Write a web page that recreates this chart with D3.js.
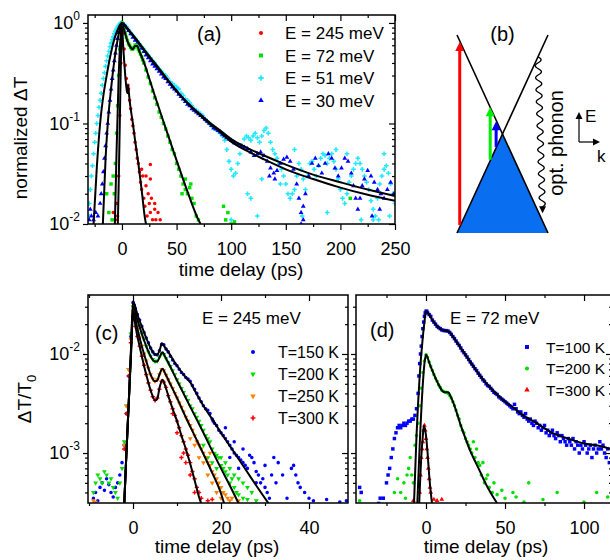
<!DOCTYPE html>
<html>
<head>
<meta charset="utf-8">
<script src="https://cdn.jsdelivr.net/npm/d3@7"></script>
<style>
body { margin: 0; background: #fff; }
text { font-family: "Liberation Sans", Arial, Helvetica, sans-serif; fill: #000; }
</style>
</head>
<body>
<script>
// ---------- data ----------
// panel (a): normalized dT vs time delay (ps)
var a245 = [[-8,0.013],[-6,0.011],[-5,0.016],[-4,0.012],[-3,0.03],[-2,0.12],[-1,0.4],[0,0.95],[1,0.8],[2,0.55],[3,0.38],[4,0.28],[5,0.21],[5.5,0.24],[6,0.22],[7,0.17],[8,0.14],[9,0.11],[10,0.095],[11,0.08],[12,0.065],[13,0.055],[14,0.045],[15,0.04],[16,0.033],[17,0.026],[18,0.022],[18,0.035],[19,0.03],[20,0.018],[21,0.015],[22,0.024],[22,0.03],[23,0.012],[24,0.02],[25,0.016],[26,0.013],[26,0.028],[26,0.039],[27,0.018],[28,0.011],[30,0.014],[30,0.016],[31,0.011],[33,0.013],[35,0.011]];
var a72 = [[-14,0.02],[-12,0.013],[-10,0.025],[-9,0.011],[-8,0.03],[-7,0.02],[-6,0.04],[-5,0.08],[-4,0.15],[-3,0.3],[-2,0.55],[-1,0.85],[0,1],[1,0.95],[2,0.85],[3,0.78],[4,0.72],[5,0.67],[6,0.62],[7,0.6],[8,0.57],[9,0.55],[10,0.55],[11,0.57],[12,0.6],[13,0.6],[14,0.58],[15,0.55],[16,0.52],[17,0.49],[18,0.46],[19,0.43],[20,0.4],[22,0.34],[24,0.29],[26,0.25],[28,0.21],[30,0.18],[32,0.155],[34,0.13],[36,0.115],[38,0.1],[40,0.088],[42,0.075],[44,0.065],[46,0.055],[48,0.05],[50,0.04],[52,0.035],[54,0.03],[55,0.02],[56,0.025],[58,0.022],[58,0.028],[60,0.02],[62,0.023],[63,0.025],[64,0.018],[66,0.016],[68,0.012],[70,0.011],[93,0.015],[95,0.011],[97,0.013],[100,0.01],[103,0.0105],[209,0.018]];
var a51 = [[-30,0.016],[-30,0.012],[-29,0.022],[-28,0.03],[-27,0.038],[-26,0.05],[-25,0.065],[-24,0.08],[-23,0.1],[-22,0.12],[-21,0.145],[-20,0.17],[-19,0.2],[-18,0.24],[-17,0.28],[-16,0.32],[-15,0.37],[-14,0.42],[-13,0.47],[-12,0.52],[-11,0.58],[-10,0.63],[-9,0.68],[-8,0.73],[-7,0.78],[-6,0.83],[-5,0.87],[-4,0.91],[-3,0.95],[-2,0.98],[-1,1.0],[0,1.0],
  [2,0.97],[4,0.92],[6,0.86],[8,0.8],[10,0.75],[12,0.7],[14,0.66],[16,0.62],[18,0.58],[20,0.55],[22,0.51],[24,0.48],[26,0.45],[28,0.42],[30,0.4],[32,0.37],[34,0.35],[36,0.33],[38,0.31],[40,0.3],[42,0.28],[44,0.26],[46,0.25],[48,0.24],[50,0.23],[52,0.22],[54,0.2],[56,0.19],[58,0.175],[60,0.17],[62,0.16],[64,0.15],[66,0.14],[68,0.135],[70,0.13],[72,0.125],[74,0.12],[76,0.11],[78,0.105],[80,0.1],[82,0.095],[84,0.09],[86,0.088],[88,0.085],[90,0.08],[92,0.075],[94,0.068],[96,0.055],[98,0.042],[100,0.035],[102,0.03],[104,0.032],[106,0.04],[108,0.05],[110,0.06],[112,0.07],[114,0.075],[116,0.072],[118,0.068],[120,0.075],[122,0.08],[124,0.072],[126,0.065],[128,0.075],[130,0.085],[132,0.09],[134,0.08],[136,0.065],[138,0.055],[140,0.05],[142,0.045],[144,0.04],[146,0.035],[148,0.03],[150,0.025],[152,0.02],[154,0.018],[156,0.02],[158,0.022],[160,0.03],[162,0.04],[164,0.035],[166,0.028],[168,0.022],[170,0.03],[172,0.04],[174,0.042],[176,0.035],[178,0.03],[180,0.038],[182,0.045],[184,0.05],[186,0.048],[188,0.04],[190,0.045],[192,0.05],[194,0.042],[196,0.035],[198,0.028],[200,0.022],[202,0.018],[204,0.016],[206,0.02],[208,0.026],[210,0.03],[212,0.035],[214,0.04],[216,0.045],[218,0.04],[220,0.035],[222,0.03],[224,0.026],[226,0.022],[228,0.017],[230,0.014],[232,0.012],[234,0.018],[236,0.025],[238,0.03],[240,0.035],[242,0.038],[244,0.032],[246,0.025],[248,0.02],[250,0.016],
  [230,0.011],[219,0.011],[245,0.012],[235,0.011],[188,0.013],[165,0.012],[124,0.012],[100,0.011],[115,0.02],[145,0.025],[128,0.028],[118,0.018],[240,0.05],[206,0.05],[158,0.055],[196,0.055]];
var a30 = [[-30,0.011],[-29,0.014],[-28,0.012],[-26,0.011],[-24,0.013],[-22,0.012],[-20,0.016],[-19,0.02],[-18,0.025],[-17,0.033],[-16,0.045],[-15,0.06],[-14,0.08],[-13,0.1],[-12,0.13],[-11,0.17],[-10,0.22],[-9,0.28],[-8,0.34],[-7,0.42],[-6,0.5],[-5,0.6],[-4,0.7],[-3,0.8],[-2,0.88],[-1,0.95],[0,1.0],
  [2,0.96],[4,0.9],[6,0.84],[8,0.78],[10,0.72],[12,0.67],[14,0.63],[16,0.6],[18,0.56],[20,0.52],[22,0.48],[24,0.45],[26,0.42],[28,0.39],[30,0.37],[32,0.35],[34,0.33],[36,0.31],[38,0.29],[40,0.28],[42,0.26],[44,0.245],[46,0.23],[48,0.22],[50,0.21],[52,0.195],[54,0.185],[56,0.175],[58,0.165],[60,0.155],[62,0.15],[64,0.14],[66,0.135],[68,0.13],[70,0.125],[72,0.12],[74,0.115],[76,0.11],[78,0.105],[80,0.1],[82,0.095],[84,0.09],[86,0.088],[88,0.085],[90,0.082],[92,0.078],[94,0.075],[96,0.072],[98,0.07],[100,0.068],[103,0.064],[106,0.062],[109,0.06],[112,0.058],[115,0.056],[118,0.052],[121,0.048],[124,0.05],[127,0.052],[130,0.048],[133,0.042],[136,0.036],[139,0.032],[142,0.034],
  [145,0.04],[148,0.044],[151,0.046],[154,0.042],[157,0.035],[160,0.025],[162,0.018],[164,0.013],[166,0.015],[168,0.02],[171,0.03],[174,0.04],[177,0.045],[180,0.038],[183,0.032],[186,0.04],[189,0.05],[192,0.045],[195,0.036],[198,0.03],[201,0.036],[204,0.045],[207,0.042],[210,0.032],[212,0.024],[214,0.018],[216,0.014],[218,0.018],[220,0.024],[222,0.028],[225,0.034],[228,0.03],[231,0.026],[234,0.022],[237,0.02],[240,0.018],[243,0.022],[246,0.026],[249,0.02],
  [164,0.01],[166,0.011],[229,0.012],[236,0.014],[140,0.028],[135,0.03]];
var a245Fit = [[-3.8,0.01],[-3,0.025],[-2,0.1],[-1,0.4],[0,1],[1,0.62],[2,0.42],[3,0.3],[4,0.23],[5,0.2],[5.6,0.24],[6.2,0.21],[7,0.17],[8,0.14],[10,0.1],[12,0.068],[15,0.04],[18,0.022],[21,0.0115],[22,0.01]];
var a72Fit = [[-6.5,0.01],[-5,0.05],[-3,0.3],[-1,0.8],[0,1],[2,0.85],[5,0.66],[8,0.57],[10,0.55],[12,0.59],[14,0.59],[16,0.52],[20,0.41],[25,0.28],[30,0.19],[40,0.09],[50,0.043],[60,0.021],[70,0.011],[72,0.01]];
var a51Fit = [[-26,0.01],[-23,0.037],[-20,0.1],[-17,0.19],[-14,0.3],[-11,0.45],[-8,0.63],[-5,0.8],[-2,0.95],[0,1],[5,0.88],[10,0.76],[15,0.65],[20,0.55],[30,0.4],[40,0.29],[50,0.21],[60,0.16],[70,0.125],[80,0.1],[90,0.082],[100,0.066],[115,0.053],[130,0.044],[150,0.035],[175,0.028],[200,0.023],[225,0.0195],[250,0.017]];
var a30Fit = [[-17.5,0.01],[-15,0.045],[-13,0.1],[-10,0.22],[-7,0.42],[-4,0.68],[-2,0.87],[0,1],[5,0.87],[10,0.75],[15,0.64],[20,0.54],[30,0.39],[40,0.285],[50,0.21],[60,0.16],[70,0.127],[80,0.103],[90,0.085],[100,0.07],[115,0.057],[130,0.048],[150,0.039],[175,0.031],[200,0.026],[225,0.022],[250,0.019]];
var labelsA = ["E = 245 meV", "E = 72 meV", "E = 51 meV", "E = 30 meV"];

// panel (c): dT/T0, E = 245 meV, four temperatures
var c150 = [[-9,0.00035],[-8.5,0.0004],[-8,0.00033],[-7.5,0.00045],[-7,0.0005],[-6.5,0.00042],[-6,0.00055],[-5.5,0.00048],[-5,0.0004],[-4.5,0.00036],[-4,0.00045],[-3.5,0.0005],[-3,0.0006],[-2.5,0.0008],[-2,0.0012],[-1.5,0.0025],[-1,0.006],[-0.5,0.015],[0,0.033],[0.3,0.031],
  [0.5,0.029],[1,0.025],[1.5,0.022],[2,0.019],[2.5,0.0165],[3,0.0145],[3.5,0.013],[4,0.0115],[4.5,0.0105],[5,0.0099],[5.5,0.0098],[6,0.0108],[6.5,0.0125],[7,0.0124],[7.5,0.0112],[8,0.0105],[8.5,0.0095],[9,0.0087],[9.5,0.008],[10,0.0076],[10.5,0.007],[11,0.0065],[11.5,0.0062],[12,0.0058],[12.5,0.0056],[13,0.0053],[13.5,0.0048],[14,0.0044],[14.5,0.004],[15,0.0036],[15.5,0.0033],[16,0.003],[16.5,0.0028],[17,0.0027],[17.5,0.0025],[18,0.0022],[18.2,0.0021],[18.5,0.002],[19,0.0019],[19.5,0.0017],[20,0.0016],[20.5,0.0015],[21,0.0014],[21,0.0018],[21.5,0.0013],[22,0.0012],[22,0.0009],[22.5,0.0011],[23,0.001],[23,0.0013],[23.5,0.00095],[24,0.0009],[24,0.0007],[24.5,0.00085],[25,0.0008],[25,0.0011],[25.5,0.00075],[26,0.0007],[26.5,0.00095],[27,0.0009],[27.5,0.0008],[28,0.00065],[28,0.0005],[28.5,0.0006],[29,0.0005],[29.5,0.00055],[30,0.00045],[30,0.00075],[30.5,0.0004],[31,0.00035],[31.5,0.0006],[32,0.0009],[32.5,0.0005],[33,0.0008],[34,0.0006],[35,0.00035],[36,0.0007],[36.5,0.00075],[37,0.0006],[37.5,0.0005],[38,0.00045],[39,0.0004],[40,0.00035],[41,0.00033],[44,0.00034],[47,0.00032],[48.5,0.00033]];
var c200 = [[-9,0.0004],[-8.5,0.0005],[-8,0.0006],[-7.5,0.00055],[-7,0.0005],[-6.5,0.00065],[-6,0.0006],[-5.5,0.0005],[-5,0.00055],[-4.5,0.00045],[-4,0.0004],[-3.5,0.00035],[-3,0.0005],[-2.5,0.0007],[-2,0.0013],[-1.5,0.003],[-1,0.007],[-0.5,0.016],[0,0.03],
  [0.5,0.026],[1,0.022],[1.5,0.019],[2,0.016],[2.5,0.014],[3,0.012],[3.5,0.0105],[4,0.0095],[4.5,0.0088],[5,0.0084],[5.5,0.0085],[6,0.0093],[6.5,0.0102],[7,0.0099],[7.5,0.009],[8,0.0082],[8.5,0.0075],[9,0.0068],[9.5,0.0062],[10,0.0055],[10.5,0.005],[11,0.0045],[11.5,0.0041],[12,0.0037],[12.5,0.0034],[13,0.003],[13.5,0.0028],[14,0.0025],[14.5,0.0023],[15,0.0021],[15.5,0.0019],[16,0.0017],[16,0.0012],[16.5,0.0015],[17,0.0014],[17,0.0009],[17.5,0.0013],[18,0.0011],[18,0.0008],[18.5,0.001],[19,0.00095],[19,0.0007],[19.5,0.0009],[20,0.00075],[20,0.0009],[20.5,0.0007],[21,0.00065],[21,0.0008],[21.5,0.0006],[22,0.0005],[22,0.0007],[22.5,0.00055],[23,0.00045],[23,0.0006],[23.5,0.0004],[24,0.00038],[24,0.00055],[25,0.00035],[25,0.0005],[26,0.00034],[26,0.00045],[27,0.0004],[28,0.00033]];
var c250 = [[-9,0.00033],[-8.5,0.00032],[-2,0.0012],[-1.5,0.003],[-1,0.007],[-0.5,0.014],[0,0.027],
  [0.5,0.022],[1,0.018],[1.5,0.0145],[2,0.012],[2.5,0.01],[3,0.0085],[3.5,0.0072],[4,0.0062],[4.5,0.0056],[5,0.0053],[5.5,0.0055],[6,0.0062],[6.5,0.007],[7,0.0068],[7.5,0.0061],[8,0.0055],[8.5,0.005],[9,0.0045],[9.5,0.004],[10,0.0036],[10.5,0.0032],[11,0.0029],[11.5,0.0026],[12,0.0023],[12.5,0.0021],[13,0.0019],[13,0.0014],[13.5,0.0017],[14,0.0015],[14,0.0012],[14.5,0.0013],[15,0.0012],[15,0.0009],[15.5,0.0011],[16,0.001],[16,0.0008],[16.5,0.0009],[17,0.0008],[17,0.0006],[17.5,0.00075],[17.5,0.001],[18,0.00065],[18,0.0005],[18.5,0.0006],[19,0.00055],[19,0.0004],[19.5,0.0005],[20,0.00045],[20,0.00035],[20.5,0.0004],[21,0.00038],[21.5,0.00035],[22,0.00033],[22.5,0.00035],[24,0.00033]];
var c300 = [[-2,0.0011],[-1.5,0.0025],[-1,0.006],[-0.5,0.013],[0,0.024],
  [0.5,0.019],[1,0.015],[1.5,0.012],[2,0.0095],[2.5,0.0077],[3,0.0062],[3.5,0.0051],[4,0.0043],[4.5,0.0037],[5,0.0034],[5.5,0.0036],[6,0.0044],[6.5,0.0053],[7,0.0052],[7.5,0.0046],[8,0.0038],[8.5,0.0033],[9,0.0028],[9,0.0025],[9.5,0.0024],[10,0.0021],[10,0.0016],[10.5,0.0018],[11,0.0015],[11,0.0009],[11.5,0.0013],[11.5,0.001],[12,0.0011],[12,0.0008],[12.5,0.00095],[13,0.0008],[13,0.0006],[13.5,0.00065],[14,0.00055],[14,0.0004],[14.5,0.00045],[15,0.0004],[15.5,0.00035],[17,0.00033],[18,0.00034]];
var c150Fit = [[-2,0.0003],[-1.5,0.001],[-1,0.003],[-0.5,0.01],[0,0.034],[0.5,0.03],[1,0.025],[2,0.019],[3,0.0145],[4,0.0115],[5,0.0099],[5.5,0.0098],[6,0.0108],[6.6,0.0128],[7.2,0.0118],[8,0.0105],[10,0.0076],[12,0.0058],[13,0.0052],[14,0.0043],[16,0.003],[18,0.0022],[20,0.0016],[22,0.00118],[24,0.00087],[26,0.00064],[28,0.00047],[30.8,0.00031]];
var c200Fit = [[-2,0.0003],[-1.5,0.001],[-1,0.003],[-0.5,0.01],[0,0.03],[1,0.022],[2,0.016],[3,0.012],[4,0.0095],[5,0.0084],[5.5,0.0084],[6,0.0092],[6.7,0.0104],[7.3,0.0094],[8,0.0082],[10,0.0054],[12,0.0036],[14,0.0024],[16,0.0016],[18,0.00105],[20,0.0007],[22,0.00047],[24,0.00031]];
var c250Fit = [[-2,0.0003],[-1.5,0.001],[-1,0.003],[-0.5,0.009],[0,0.027],[1,0.018],[2,0.012],[3,0.0085],[4,0.0062],[5,0.0053],[5.5,0.0054],[6,0.0062],[6.7,0.0071],[7.3,0.0064],[8,0.0055],[10,0.0036],[12,0.0023],[14,0.0015],[16,0.00098],[18,0.00063],[20,0.00039],[20.7,0.00031]];
var c300Fit = [[-2,0.0003],[-1.5,0.001],[-1,0.003],[-0.5,0.009],[0,0.024],[1,0.015],[2,0.0095],[3,0.0062],[4,0.0043],[5,0.0034],[5.5,0.0035],[6,0.0045],[6.7,0.0055],[7.3,0.0048],[8,0.0038],[9,0.0028],[10,0.0021],[11,0.0015],[12,0.0011],[13,0.00078],[14,0.00053],[15,0.00036],[15.5,0.00031]];
var labelsC = ["T=150 K", "T=200 K", "T=250 K", "T=300 K"];

// panel (d): dT/T0, E = 72 meV, three temperatures
var d100 = [[-42,0.00045],[-41,0.0004],[-30,0.00031],[-29,0.00035],[-27,0.00035],[-25,0.0005],[-24,0.0006],[-23,0.0007],[-22,0.0009],[-21,0.0011],[-20,0.0014],[-19,0.0016],[-18,0.0018],[-17,0.0019],[-16,0.0018],[-15,0.0019],[-14,0.002],[-13,0.0019],[-12,0.002],[-11,0.0021],[-10,0.0021],[-9,0.0022],[-8,0.0022],[-7,0.0024],[-6,0.0028],[-5,0.004],[-4.5,0.006],[-4,0.008],[-3.5,0.01],[-3,0.012],[-2.5,0.015],[-2,0.018],[-1.5,0.021],[-1,0.024],[-0.5,0.026],[0,0.027],[0.5,0.027],[1,0.026],[2,0.025],[3,0.024],[4,0.022],[5,0.021],[6,0.02],[7,0.019],[8,0.0185],[9,0.018],[10,0.0175],[11,0.0173],[12,0.0172],[13,0.0172],[14,0.017],[15,0.0165],[16,0.0158],[17,0.015],[18,0.0143],[19,0.0135],[20,0.0128],[21,0.0122],[22,0.0115],[23,0.0108],[24,0.0103],[25,0.0098],[26,0.0093],[27,0.0088],[28,0.0083],[29,0.0079],[30,0.0075],[31,0.0071],[32,0.0068],[33,0.0064],[34,0.0061],[35,0.0058],[36,0.0055],[37,0.0053],[38,0.005],[39,0.0048],[40,0.0047],[41,0.0045],[42,0.0043],[43,0.0041],[44,0.004],[45,0.0039],[46,0.0037],[47,0.0036],[48,0.0035],[49,0.0034],[50,0.0033],[51,0.0032],[52,0.0031],[53,0.003],[54,0.0029],[55,0.0028],[56,0.0031],[57,0.0028],[58,0.0026],[59,0.0025],[60,0.0026],[61,0.0024],[62,0.0023],[63,0.0025],[64,0.0022],[65,0.0021],[66,0.0022],[67,0.002],[68,0.0019],[69,0.0021],[70,0.002],[71,0.0018],[72,0.0019],[73,0.0017],[74,0.0018],[75,0.0019],[76,0.0016],[77,0.0017],[78,0.0015],[79,0.0016],[80,0.0017],[81,0.0015],[82,0.0014],[83,0.0016],[84,0.0015],[85,0.0013],[86,0.0015],[87,0.0014],[88,0.0013],[89,0.0012],[90,0.0014],[91,0.0013],[92,0.0012],[93,0.0014],[94,0.0011],[95,0.0013],[96,0.0012],[97,0.001],[98,0.0012],[99,0.0011],[100,0.0013],[101,0.0012],[102,0.001],[103,0.0011],[104,0.0012],[105,0.0009],[106,0.0011],[107,0.0012],[108,0.001],[109,0.0011],[110,0.0013],[111,0.0011],[112,0.0012],[113,0.001],[114,0.0009],[115,0.0011],[116,0.0008]];
var d200 = [[-42,0.00033],[-20,0.0004],[-18,0.00055],[-16,0.0004],[-14,0.0005],[-13,0.00035],[-12,0.0006],[-11,0.0007],[-10,0.0009],[-9,0.0006],[-8,0.0005],[-7,0.0012],[-6,0.0015],[-5,0.002],[-4,0.003],[-3,0.0045],[-2,0.0065],[-1,0.0085],[0,0.0098],[1,0.0092],[2,0.0083],[3,0.0075],[4,0.0068],[5,0.0062],[6,0.0057],[7,0.0053],[8,0.0049],[9,0.0046],[10,0.0043],[11,0.0042],[12,0.0041],[13,0.0041],[14,0.004],[15,0.0038],[16,0.0036],[17,0.0033],[18,0.003],[19,0.0027],[20,0.0024],[21,0.0022],[22,0.0019],[23,0.0017],[24,0.0016],[25,0.0014],[26,0.0013],[27,0.0012],[28,0.0011],[29,0.001],[30,0.0013],[31,0.0009],[32,0.0011],[33,0.0008],[34,0.00075],[35,0.0006],[36,0.0008],[37,0.0005],[38,0.00055],[39,0.0006],[40,0.00045],[42,0.0004],[43,0.0005],[45,0.00038],[48,0.00042],[50,0.00035],[55,0.0004],[57,0.00036],[62,0.00032],[65,0.0005],[74,0.00034],[83,0.0004],[100,0.00032],[108,0.0004],[115,0.00036]];
var d300 = [[-8,0.00033],[-4,0.0004],[-3.5,0.0006],[-3,0.0009],[-2.5,0.0011],[-2,0.0013],[-1.5,0.0017],[-1,0.0019],[-0.5,0.0017],[0,0.0014],[0.5,0.0011],[1,0.0009],[1.5,0.0007],[2,0.00055],[2.5,0.00045],[3,0.0004],[5,0.00034],[7,0.00033],[10,0.00034]];
var d100Fit = [[-7.6,0.00031],[-6,0.0015],[-4,0.006],[-2,0.015],[-1,0.021],[0,0.027],[2,0.025],[4,0.022],[6,0.02],[8,0.0185],[10,0.0175],[12,0.0172],[14,0.017],[16,0.0158],[18,0.0143],[20,0.0128],[25,0.0098],[30,0.0075],[35,0.0058],[40,0.0047],[45,0.0039],[50,0.0033],[55,0.0029],[60,0.0025],[70,0.002],[80,0.0016],[90,0.0014],[100,0.00125],[110,0.00118],[117,0.0011]];
var d200Fit = [[-5.5,0.00031],[-4,0.0012],[-2,0.005],[-1,0.008],[0,0.0098],[1,0.0092],[2,0.0082],[4,0.0068],[6,0.0057],[8,0.0049],[10,0.0043],[12,0.0041],[14,0.0041],[16,0.0036],[18,0.003],[20,0.0024],[22,0.0019],[25,0.0014],[28,0.00105],[31,0.00083],[34,0.00066],[37,0.00052],[40,0.00042],[43,0.00035],[45,0.00031]];
var d300Fit = [[-4.3,0.00031],[-3,0.0009],[-2,0.0015],[-1.3,0.0019],[0,0.0015],[1,0.001],[2,0.0006],[3,0.0004],[3.8,0.00031]];
var labelsD = ["T=100 K", "T=200 K", "T=300 K"];

var red = "#ff0000", green = "#00e000", cyan = "#20e8ff", blue = "#0000ff", orange = "#ff8000";

// ---------- drawing ----------
var svg = d3.select("body").append("svg")
    .attr("width", 610)
    .attr("height", 560);

var defs = svg.append("defs");
var isDecade = function (d) {
    var l = Math.log10(d);
    return Math.abs(l - Math.round(l)) < 1e-6;
};

function makePanel(id, box, xDomain, yDomain) {
    defs.append("clipPath").attr("id", id)
        .append("rect")
        .attr("x", box.left).attr("y", box.top)
        .attr("width", box.right - box.left).attr("height", box.bottom - box.top);
    var x = d3.scaleLinear().domain(xDomain).range([box.left, box.right]);
    var y = d3.scaleLog().domain(yDomain).range([box.bottom, box.top]);
    var g = svg.append("g");
    var plot = g.append("g").attr("clip-path", "url(#" + id + ")");
    return {box: box, x: x, y: y, g: g, plot: plot};
}

function drawAxes(p, xMajor, xMinor, yLabels) {
    var b = p.box;
    var yMajor = p.y.ticks().filter(isDecade);
    var yMinor = p.y.ticks().filter(function (d) { return !isDecade(d); });
    function clean(sel) {
        sel.select(".domain").remove();
        sel.selectAll("line").attr("stroke", "#000").attr("stroke-width", 1.2);
        sel.attr("font-size", 18).attr("font-family", null);
        return sel;
    }
    // bottom (outward) with labels
    clean(p.g.append("g").attr("transform", "translate(0," + b.bottom + ")")
        .call(d3.axisBottom(p.x).tickValues(xMajor).tickSize(6).tickPadding(12)));
    clean(p.g.append("g").attr("transform", "translate(0," + b.bottom + ")")
        .call(d3.axisBottom(p.x).tickValues(xMinor).tickSize(3).tickFormat("")));
    // top (inward)
    clean(p.g.append("g").attr("transform", "translate(0," + b.top + ")")
        .call(d3.axisTop(p.x).tickValues(xMajor).tickSize(-6).tickFormat("")));
    clean(p.g.append("g").attr("transform", "translate(0," + b.top + ")")
        .call(d3.axisTop(p.x).tickValues(xMinor).tickSize(-3).tickFormat("")));
    // left (outward)
    var left = clean(p.g.append("g").attr("transform", "translate(" + b.left + ",0)")
        .call(d3.axisLeft(p.y).tickValues(yMajor).tickSize(5).tickPadding(3).tickFormat(function () { return ""; })));
    clean(p.g.append("g").attr("transform", "translate(" + b.left + ",0)")
        .call(d3.axisLeft(p.y).tickValues(yMinor).tickSize(3).tickFormat("")));
    if (yLabels) {
        left.selectAll(".tick text").each(function (d) {
            var t = d3.select(this);
            t.append("tspan").text("10");
            t.append("tspan").attr("font-size", 12).attr("dy", "-0.75em")
                .text(String(Math.round(Math.log10(d))));
        });
    }
    // right (inward)
    clean(p.g.append("g").attr("transform", "translate(" + b.right + ",0)")
        .call(d3.axisRight(p.y).tickValues(yMajor).tickSize(-6).tickFormat("")));
    clean(p.g.append("g").attr("transform", "translate(" + b.right + ",0)")
        .call(d3.axisRight(p.y).tickValues(yMinor).tickSize(-3).tickFormat("")));
    p.g.append("rect")
        .attr("x", b.left).attr("y", b.top)
        .attr("width", b.right - b.left).attr("height", b.bottom - b.top)
        .attr("fill", "none").attr("stroke", "#000").attr("stroke-width", 1.5);
}

function drawSeries(p, s) {
    var sym = d3.symbol().type(s.type).size(s.size);
    p.plot.append("g")
        .selectAll("path")
        .data(s.data)
        .enter()
        .append("path")
        .attr("transform", function (d) {
            return "translate(" + p.x(d[0]) + "," + p.y(d[1]) + ")" + (s.flip ? " rotate(180)" : "");
        })
        .attr("d", sym)
        .attr("fill", s.color);
}

function drawFit(p, fit) {
    var line = d3.line()
        .x(function (d) { return p.x(d[0]); })
        .y(function (d) { return p.y(d[1]); })
        .curve(d3.curveMonotoneX);
    p.plot.append("path")
        .datum(fit)
        .attr("d", line)
        .attr("fill", "none")
        .attr("stroke", "#000")
        .attr("stroke-width", 2);
}

function drawLegend(p, list, x0, x1, y0, dy, fs) {
    list.forEach(function (s, i) {
        var sym = d3.symbol().type(s.type).size(s.size * 1.3);
        p.g.append("path")
            .attr("transform", "translate(" + x0 + "," + (y0 + i * dy) + ")" + (s.flip ? " rotate(180)" : ""))
            .attr("d", sym)
            .attr("fill", s.color);
        p.g.append("text")
            .attr("x", x1).attr("y", y0 + i * dy)
            .attr("dy", "0.36em")
            .attr("font-size", fs)
            .text(s.label);
    });
}

// ---- panel (a)
var pa = makePanel("clipA", {left: 88, right: 395, top: 15, bottom: 224}, [-31.1, 250], [0.01, 1.2]);
var seriesA = [
    {label: labelsA[0], data: a245, fit: a245Fit, color: red, type: d3.symbolCircle, size: 10},
    {label: labelsA[1], data: a72, fit: a72Fit, color: green, type: d3.symbolSquare, size: 12},
    {label: labelsA[2], data: a51, fit: a51Fit, color: cyan, type: d3.symbolCross, size: 12},
    {label: labelsA[3], data: a30, fit: a30Fit, color: blue, type: d3.symbolTriangle, size: 10}
];
[2, 3, 1, 0].forEach(function (i) { drawSeries(pa, seriesA[i]); });
seriesA.forEach(function (s) { drawFit(pa, s.fit); });
drawAxes(pa, [0, 50, 100, 150, 200, 250], [-25, 25, 75, 125, 175, 225], true);
drawLegend(pa, seriesA, 261, 285, 33, 22.5, 17);
pa.g.append("text").attr("x", 197).attr("y", 41).attr("font-size", 20).text("(a)");
pa.g.append("text").attr("x", 241).attr("y", 276).attr("font-size", 19)
    .attr("text-anchor", "middle").text("time delay (ps)");
pa.g.append("text").attr("transform", "translate(27,138) rotate(-90)")
    .attr("font-size", 19).attr("text-anchor", "middle").text("normalized \u0394T");

// ---- panel (c)
var pc = makePanel("clipC", {left: 88, right: 348, top: 295, bottom: 503}, [-10.23, 48.86], [3.13e-4, 0.0394]);
var seriesC = [
    {label: labelsC[0], data: c150, fit: c150Fit, color: blue, type: d3.symbolCircle, size: 10},
    {label: labelsC[1], data: c200, fit: c200Fit, color: green, type: d3.symbolTriangle, size: 10, flip: true},
    {label: labelsC[2], data: c250, fit: c250Fit, color: orange, type: d3.symbolTriangle, size: 10, flip: true},
    {label: labelsC[3], data: c300, fit: c300Fit, color: red, type: d3.symbolCross, size: 10}
];
seriesC.forEach(function (s) { drawSeries(pc, s); });
seriesC.forEach(function (s) { drawFit(pc, s.fit); });
drawAxes(pc, [0, 20, 40], [-10, 10, 30], true);
drawLegend(pc, seriesC, 253, 278, 352, 22, 16);
pc.g.append("text").attr("x", 95).attr("y", 340).attr("font-size", 20).text("(c)");
pc.g.append("text").attr("x", 202).attr("y", 324).attr("font-size", 17).text("E = 245 meV");
pc.g.append("text").attr("x", 217).attr("y", 553).attr("font-size", 19)
    .attr("text-anchor", "middle").text("time delay (ps)");
var yt = pc.g.append("text").attr("transform", "translate(31,399) rotate(-90)")
    .attr("font-size", 19).attr("text-anchor", "middle");
yt.append("tspan").text("\u0394T/T");
yt.append("tspan").attr("font-size", 13).attr("dy", "0.35em").text("0");

// ---- panel (d)
var pd = makePanel("clipD", {left: 356, right: 612, top: 295, bottom: 503}, [-44.3, 117.7], [3.13e-4, 0.0394]);
var seriesD = [
    {label: labelsD[0], data: d100, fit: d100Fit, color: blue, type: d3.symbolSquare, size: 12},
    {label: labelsD[1], data: d200, fit: d200Fit, color: green, type: d3.symbolCircle, size: 10},
    {label: labelsD[2], data: d300, fit: d300Fit, color: red, type: d3.symbolTriangle, size: 10}
];
seriesD.forEach(function (s) { drawSeries(pd, s); });
seriesD.forEach(function (s) { drawFit(pd, s.fit); });
drawAxes(pd, [0, 50, 100], [-25, 25, 75], false);
drawLegend(pd, seriesD, 527, 546, 347, 21.5, 15.5);
pd.g.append("text").attr("x", 370).attr("y", 337).attr("font-size", 20).text("(d)");
pd.g.append("text").attr("x", 450).attr("y", 324).attr("font-size", 17).text("E = 72 meV");
pd.g.append("text").attr("x", 486).attr("y", 553).attr("font-size", 19)
    .attr("text-anchor", "middle").text("time delay (ps)");

// ---- panel (b): band diagram, k and E in arbitrary units
var coneA = [[-1, 1], [1, -1]];
var coneB = [[1, 1], [-1, -1]];
var valence = [[0, 0], [-1, -1], [1, -1]];
var transitions = [
    {k: -0.94, from: -0.92, to: 0.93, color: red},
    {k: -0.27, from: -0.26, to: 0.27, color: "#00ee00"},
    {k: -0.14, from: -0.13, to: 0.13, color: blue}
];
var phonon = {k0: 0.78, k1: 0.88, from: 0.78, to: -0.8};

var bk = d3.scaleLinear().domain([-1, 1]).range([457, 548]);
var bE = d3.scaleLinear().domain([-1, 1]).range([233, 35]);
var gb = svg.append("g");
var pt = function (d) { return [bk(d[0]), bE(d[1])]; };

gb.append("path").attr("d", d3.line()(valence.map(pt)) + "Z").attr("fill", "#0a6ef0");
[coneA, coneB].forEach(function (c) {
    gb.append("path").attr("d", d3.line()(c.map(pt)))
        .attr("stroke", "#000").attr("stroke-width", 1.6).attr("fill", "none");
});

function arrowUp(g, x, y1, y2, color, w, hw, hl) {
    g.append("line").attr("x1", x).attr("x2", x).attr("y1", y1).attr("y2", y2 + hl - 1)
        .attr("stroke", color).attr("stroke-width", w);
    g.append("path").attr("d", d3.line()([[x - hw, y2 + hl], [x + hw, y2 + hl], [x, y2]]) + "Z").attr("fill", color);
}
transitions.forEach(function (t) {
    arrowUp(gb, bk(t.k), bE(t.from), bE(t.to), t.color, 3, 4.5, 9);
});

// wavy phonon line
var wave = [];
var py0 = bE(phonon.from), py1 = bE(phonon.to) - 6;
for (var yy = py0; yy <= py1; yy += 0.5) {
    var f = (yy - py0) / (bE(phonon.to) - py0);
    wave.push([bk(phonon.k0 + (phonon.k1 - phonon.k0) * f) + 3 * Math.sin(2 * Math.PI * (yy - py0) / 12), yy]);
}
gb.append("path").attr("d", d3.line()(wave)).attr("fill", "none")
    .attr("stroke", "#000").attr("stroke-width", 1.3);
var px1 = bk(phonon.k1), pyEnd = bE(phonon.to);
gb.append("path").attr("d", d3.line()([[px1 - 3.5, pyEnd - 7], [px1 + 3.5, pyEnd - 7], [px1, pyEnd]]) + "Z").attr("fill", "#000");
gb.append("text").attr("transform", "translate(556,143) rotate(-90)")
    .attr("font-size", 20).attr("text-anchor", "middle").attr("dy", "0.35em").text("opt. phonon");
gb.append("text").attr("x", bk(0)).attr("y", 41).attr("font-size", 20)
    .attr("text-anchor", "middle").text("(b)");

// E / k orientation arrows
gb.append("line").attr("x1", 579).attr("y1", 142).attr("x2", 579).attr("y2", 118).attr("stroke", "#000").attr("stroke-width", 1.2);
gb.append("path").attr("d", "M575.5,119L582.5,119L579,112Z").attr("fill", "#000");
gb.append("line").attr("x1", 579).attr("y1", 142).attr("x2", 594).attr("y2", 142).attr("stroke", "#000").attr("stroke-width", 1.2);
gb.append("path").attr("d", "M593,138.5L593,145.5L600,142Z").attr("fill", "#000");
gb.append("text").attr("x", 585).attr("y", 122).attr("font-size", 17).text("E");
gb.append("text").attr("x", 597).attr("y", 162).attr("font-size", 17).text("k");
</script>
</body>
</html>
